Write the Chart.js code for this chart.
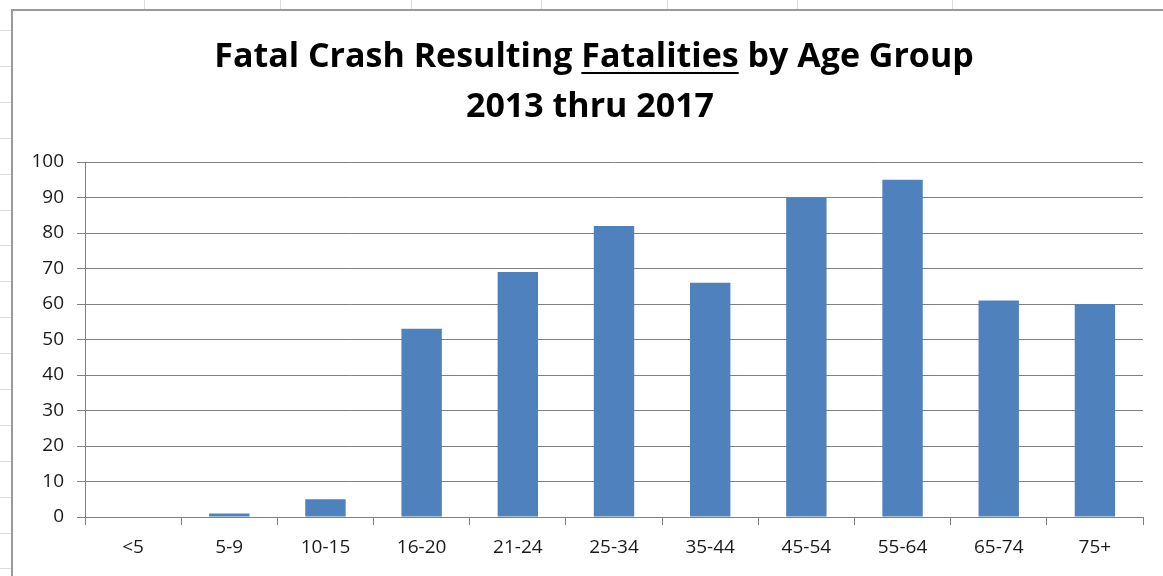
<!DOCTYPE html>
<html>
<head>
<meta charset="utf-8">
<script src="https://cdn.jsdelivr.net/npm/chart.js@4.4.0/dist/chart.umd.min.js"></script>
<style>
  html, body { margin: 0; padding: 0; background: #fff; overflow: hidden; }
  canvas { display: block; }
</style>
</head>
<body>
<canvas id="chart" width="1163" height="576"></canvas>
<script>
// Data
const ageGroups = ['<5', '5-9', '10-15', '16-20', '21-24', '25-34', '35-44', '45-54', '55-64', '65-74', '75+'];
const fatalities = [0, 1, 5, 53, 69, 82, 66, 90, 95, 61, 60];
const yMin = 0;
const yMax = 100;
const yStep = 10;
const titleParts = ['Fatal Crash Resulting ', 'Fatalities', ' by Age Group'];
const subTitle = '2013 thru 2017';

const FONT = '"Open Sans", "Liberation Sans", sans-serif';

// Spreadsheet cells behind the chart object, plus the chart frame
const sheetBackground = {
    id: 'sheetBackground',
    beforeDraw(chart) {
        const ctx = chart.ctx;
        ctx.save();
        ctx.fillStyle = '#fff';
        ctx.fillRect(0, 0, chart.width, chart.height);
        ctx.strokeStyle = '#dadcdd';
        ctx.lineWidth = 1;
        [144, 280, 411, 541, 667, 797, 952].forEach(x => {
            ctx.beginPath();
            ctx.moveTo(x + 0.5, 0);
            ctx.lineTo(x + 0.5, 9);
            ctx.stroke();
        });
        for (let y = 30; y < chart.height; y += 35.9) {
            ctx.beginPath();
            ctx.moveTo(0, Math.round(y) + 0.5);
            ctx.lineTo(11, Math.round(y) + 0.5);
            ctx.stroke();
        }
        ctx.strokeStyle = '#9a9a9a';
        ctx.lineWidth = 2;
        ctx.strokeRect(12, 10, chart.width + 20, chart.height + 20);
        ctx.restore();
    }
};

// Two-line title with one underlined word
const underlinedTitle = {
    id: 'underlinedTitle',
    afterDraw(chart) {
        const ctx = chart.ctx;
        ctx.save();
        ctx.fillStyle = '#000';
        ctx.textBaseline = 'alphabetic';
        ctx.textAlign = 'left';
        let size = 31;
        ctx.font = `bold ${size}px ${FONT}`;
        const full = titleParts.join('');
        size = size * 770 / ctx.measureText(full).width;
        if (size > 34) size = 34;
        ctx.font = `bold ${size}px ${FONT}`;
        const widths = titleParts.map(p => ctx.measureText(p).width);
        const total = widths.reduce((a, b) => a + b, 0);
        let x = 594 - total / 2;
        const base1 = 67;
        titleParts.forEach((p, i) => {
            ctx.fillText(p, x, base1);
            if (i === 1) {
                ctx.fillRect(x, base1 + 5, widths[i], 2);
            }
            x += widths[i];
        });
        ctx.textAlign = 'center';
        ctx.fillText(subTitle, 590, 117);
        ctx.restore();
    }
};

new Chart(document.getElementById('chart').getContext('2d'), {
    type: 'bar',
    data: {
        labels: ageGroups,
        datasets: [{
            label: 'Fatalities',
            data: fatalities,
            backgroundColor: '#4f81bd',
            borderWidth: 0,
            barPercentage: 1,
            categoryPercentage: 0.42
        }]
    },
    options: {
        responsive: false,
        animation: false,
        layout: {
            padding: { top: 162, right: 20, bottom: 0, left: 0 }
        },
        plugins: {
            legend: { display: false },
            title: { display: false },
            tooltip: { enabled: false }
        },
        scales: {
            x: {
                grid: {
                    display: true,
                    drawOnChartArea: false,
                    drawTicks: true,
                    tickLength: 8,
                    color: '#808080',
                    offset: true
                },
                border: { color: '#808080', width: 1 },
                ticks: {
                    color: '#1a1a1a',
                    font: { family: FONT, size: 19 },
                    padding: 11,
                    maxRotation: 0,
                    autoSkip: false
                },
                afterFit(scale) { scale.height = 59; }
            },
            y: {
                min: yMin,
                max: yMax,
                ticks: {
                    stepSize: yStep,
                    color: '#1a1a1a',
                    font: { family: FONT, size: 19 },
                    padding: 13
                },
                grid: {
                    color: '#808080',
                    tickLength: 8
                },
                border: { color: '#808080', width: 1 },
                afterFit(scale) { scale.width = 85; }
            }
        }
    },
    plugins: [sheetBackground, underlinedTitle]
});
</script>
</body>
</html>
